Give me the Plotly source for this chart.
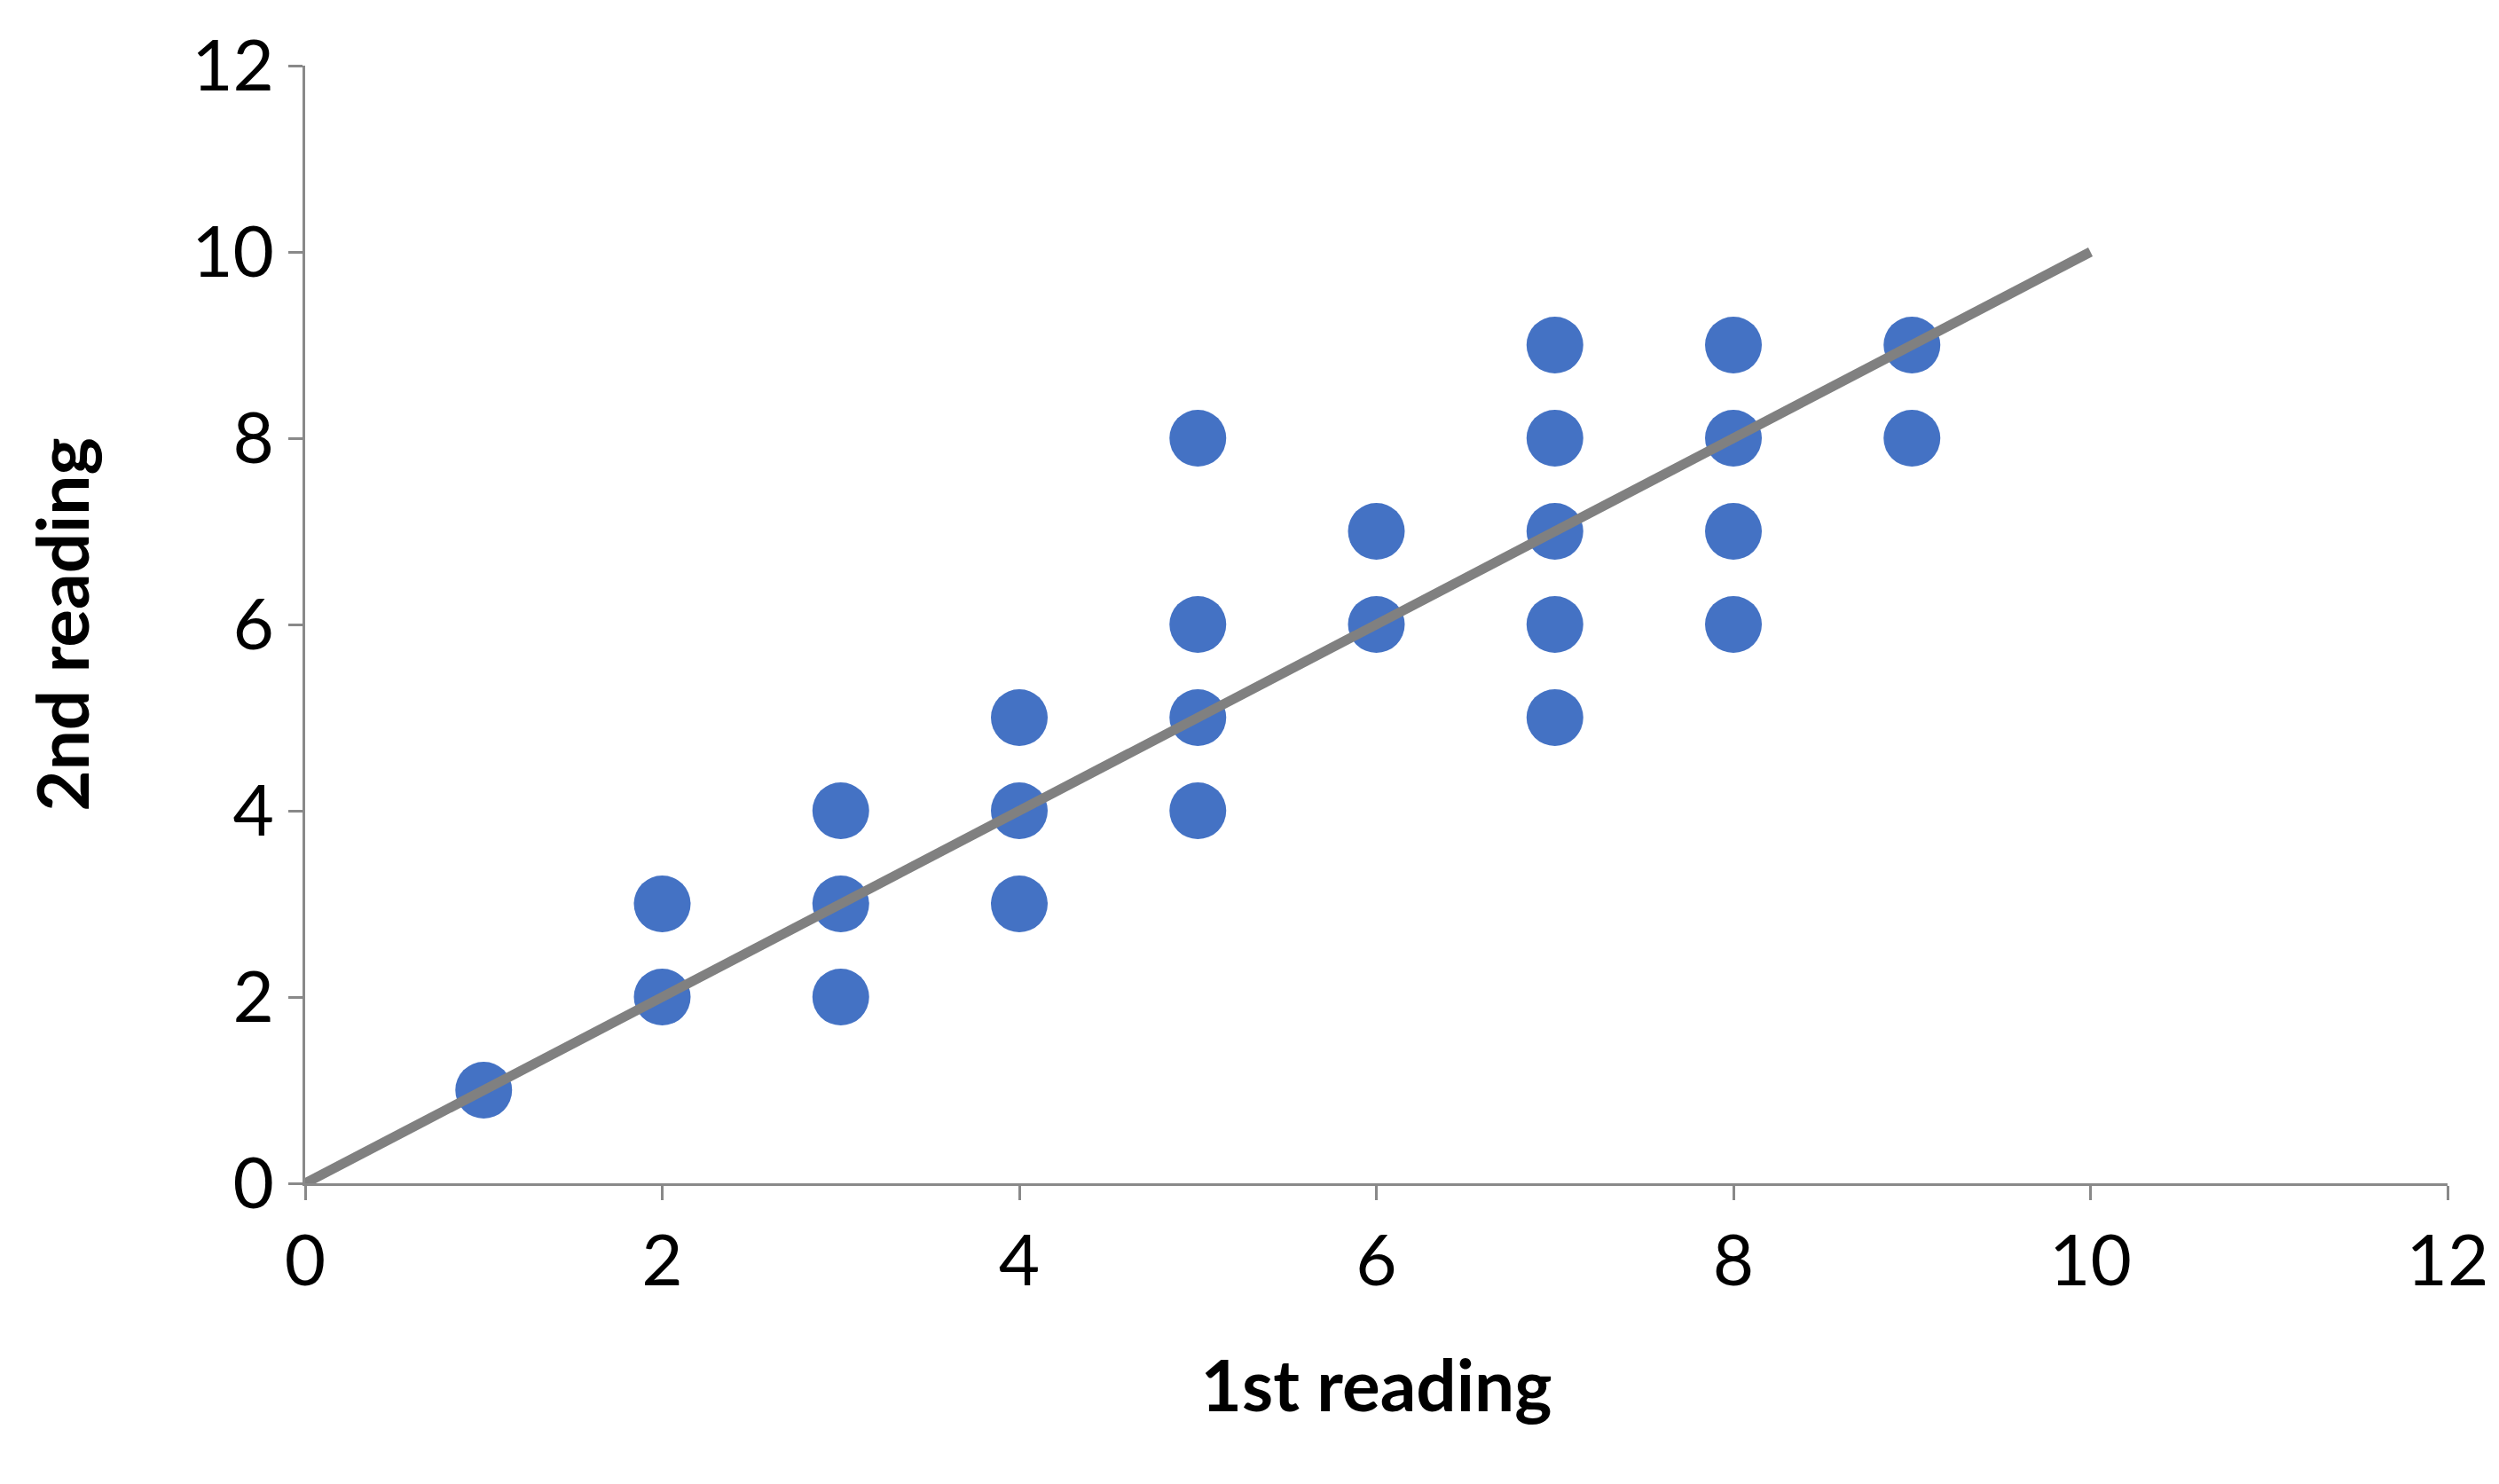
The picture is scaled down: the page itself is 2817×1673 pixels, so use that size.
import plotly.graph_objects as go

first_reading = [1,2,2,3,3,3,4,4,4,5,5,5,5,6,6,7,7,7,7,7,8,8,8,8,9,9]
second_reading = [1,2,3,2,3,4,3,4,5,4,5,6,8,6,7,5,6,7,8,9,6,7,8,9,8,9]
line_x = [0, 10]
line_y = [0, 10]

fig = go.Figure()
fig.add_trace(go.Scatter(x=first_reading, y=second_reading, mode="markers",
    marker=dict(size=64, color="#4472C4"), showlegend=False))
fig.add_trace(go.Scatter(x=line_x, y=line_y, mode="lines",
    line=dict(color="#808080", width=11), showlegend=False))

font = "Lato, Liberation Sans, sans-serif"
axcommon = dict(showgrid=False, zeroline=False, showline=True, linecolor="#898989", linewidth=3,
    ticks="outside", ticklen=16, tickwidth=3, tickcolor="#898989",
    tickfont=dict(size=80, family=font, color="black"), range=[0, 12], dtick=2)
fig.update_xaxes(**axcommon, title=dict(text="<b>1st reading</b>", font=dict(size=80, family=font, color="black"), standoff=70))
fig.update_yaxes(**axcommon, title=dict(text="<b>2nd reading</b>", font=dict(size=80, family=font, color="black"), standoff=90))
fig.update_layout(width=2817, height=1673, plot_bgcolor="white", paper_bgcolor="white",
    margin=dict(l=336, r=66, t=66, b=347))
fig.write_html("out.html")
